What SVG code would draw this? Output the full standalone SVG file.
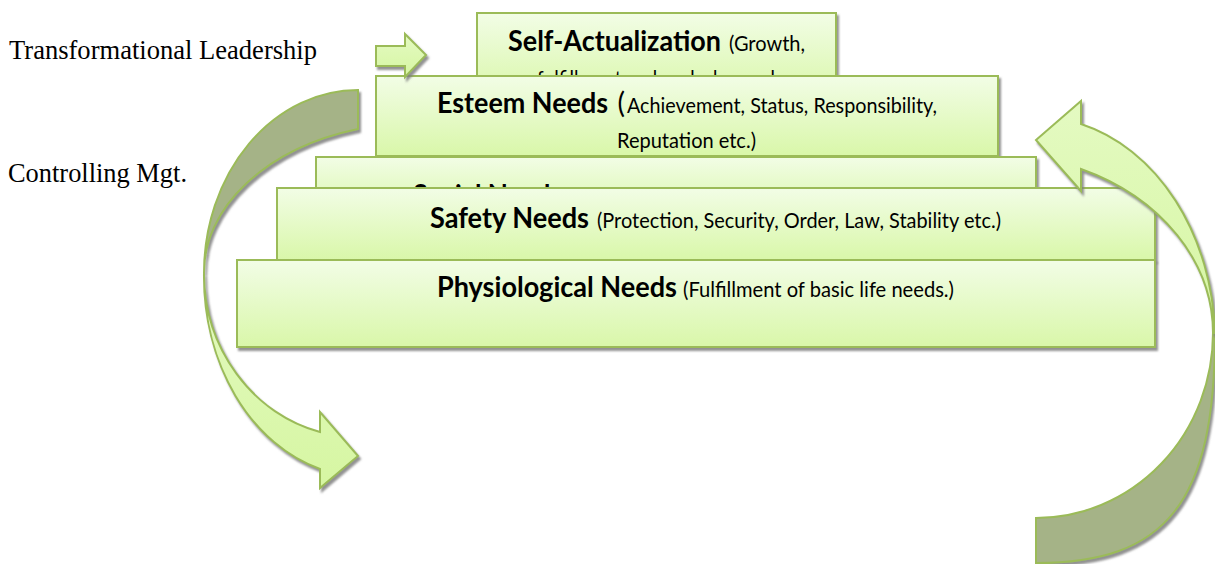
<svg xmlns="http://www.w3.org/2000/svg" width="1215" height="564" viewBox="0 0 1215 564">
<defs>
<linearGradient id="g" x1="0" y1="0" x2="0" y2="1">
<stop offset="0" stop-color="#f2fde6"/>
<stop offset="1" stop-color="#d9f7a9"/>
</linearGradient>
<linearGradient id="ga" x1="0" y1="0" x2="0" y2="1">
<stop offset="0" stop-color="#e4fac2"/>
<stop offset="1" stop-color="#d6f6a2"/>
</linearGradient>
<filter id="sh" x="-10%" y="-10%" width="125%" height="130%">
<feDropShadow dx="2" dy="3" stdDeviation="0.8" flood-color="#7f7f7f" flood-opacity="0.85"/>
</filter>
</defs>
<style>
.box{fill:url(#g);stroke:#9bbb59;stroke-width:2;filter:url(#sh)}
.arr{fill:url(#ga);stroke:#9bbb59;stroke-width:2;stroke-linejoin:miter;filter:url(#sh)}
.back{fill:#a5b387;stroke:#9bbb59;stroke-width:2;filter:url(#sh)}
.b{font-family:Lato,"Liberation Sans",sans-serif;font-weight:bold;font-size:28px;fill:#000}
.r{font-family:Lato,"Liberation Sans",sans-serif;font-size:21.5px;fill:#000}
.rl{font-family:Lato,"Liberation Sans",sans-serif;font-size:28px;fill:#000}
.s{font-family:"Liberation Serif","Times New Roman",serif;font-size:26.5px;fill:#000}
</style>
<g id="label-transformational">
<text class="s" x="9" y="59" textLength="308" lengthAdjust="spacingAndGlyphs">Transformational Leadership</text>
</g>
<g id="label-controlling">
<text class="s" x="8" y="182" textLength="179" lengthAdjust="spacingAndGlyphs">Controlling Mgt.</text>
</g>
<g id="self-actualization">
<rect class="box" x="477" y="13" width="359" height="85"/>
<text class="b" x="508" y="50.5" textLength="213" lengthAdjust="spacingAndGlyphs">Self-Actualization</text>
<text class="r" x="729" y="50.5" textLength="76" lengthAdjust="spacingAndGlyphs">(Growth,</text>
<text class="r" x="537" y="86" textLength="238" lengthAdjust="spacingAndGlyphs">fulfillment and seeks beyond</text>
</g>
<g id="esteem">
<rect class="box" x="376" y="76" width="622" height="80"/>
<text class="b" x="437" y="113" textLength="171" lengthAdjust="spacingAndGlyphs">Esteem Needs</text>
<text class="rl" x="617.5" y="113">(</text>
<text class="r" x="627" y="113" textLength="310" lengthAdjust="spacingAndGlyphs">Achievement, Status, Responsibility,</text>
<text class="r" x="617" y="148" textLength="139" lengthAdjust="spacingAndGlyphs">Reputation etc.)</text>
</g>
<g id="social">
<rect class="box" x="316" y="157" width="720" height="60"/>
<text class="b" x="413" y="205" textLength="149" lengthAdjust="spacingAndGlyphs">Social Needs</text>
</g>
<g id="safety">
<rect class="box" x="277" y="188" width="878" height="72"/>
<text class="b" x="430" y="228" textLength="159" lengthAdjust="spacingAndGlyphs">Safety Needs</text>
<text class="r" x="597" y="228" textLength="404" lengthAdjust="spacingAndGlyphs">(Protection, Security, Order, Law, Stability etc.)</text>
</g>
<g id="physiological">
<rect class="box" x="237" y="260" width="918" height="87"/>
<text class="b" x="437" y="297" textLength="240" lengthAdjust="spacingAndGlyphs">Physiological Needs</text>
<text class="r" x="683" y="297" textLength="271" lengthAdjust="spacingAndGlyphs">(Fulfillment of basic life needs.)</text>
</g>
<g id="connectors">
<path id="arrow-top" class="arr" d="M376,46 L405,46 L405,34 L426,55 L405,77 L405,66 L376,66 Z"/>
<g id="arrow-left">
<path class="back" d="M358,90 A154 183 0 0 0 204,273 A216 150 0 0 1 358,129 Z"/>
<path class="arr" d="M204,273 A160 200 0 0 0 320,469 L320,488 L358,456 L320,412 L320,432 A154 164 0 0 1 204,273 Z"/>
</g>
<g id="arrow-right">
<path class="back" d="M1215,333 C1215,503 1166,563 1036,563 L1036,518 A177 185 0 0 0 1213,333 Z"/>
<path class="arr" d="M1036,140 L1081,101 L1081,124 A179 225 0 0 1 1215,333 L1213,333 A220 179 0 0 0 1081,169 L1081,191 Z"/>
</g>
</g>
</svg>
